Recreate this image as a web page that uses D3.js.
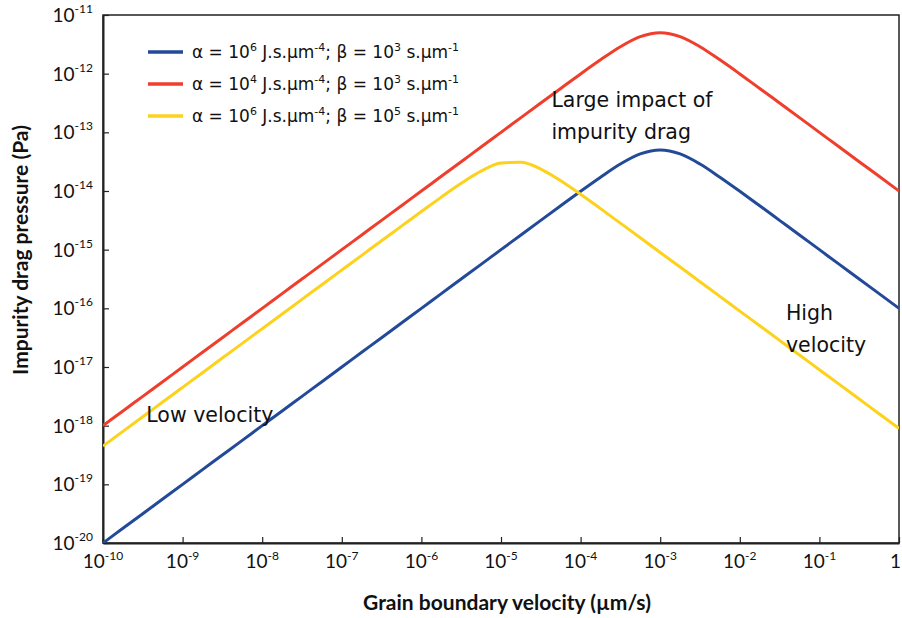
<!DOCTYPE html>
<html><head><meta charset="utf-8">
<script src="https://cdn.jsdelivr.net/npm/d3@7"></script>
<style>
body{margin:0;background:#fff;}
svg{display:block;}
text{font-family:Lato,"Noto Sans",sans-serif;fill:#111;}
</style></head>
<body><svg id="c" width="902" height="618"></svg>
<script>
// velocity (µm/s), 0.25-decade steps
const velocity = [1e-10,1.78e-10,3.16e-10,5.62e-10,1e-9,1.78e-9,3.16e-9,5.62e-9,1e-8,1.78e-8,3.16e-8,5.62e-8,
  1e-7,1.78e-7,3.16e-7,5.62e-7,1e-6,1.78e-6,3.16e-6,5.62e-6,1e-5,1.78e-5,3.16e-5,5.62e-5,
  1e-4,1.78e-4,3.16e-4,5.62e-4,1e-3,1.78e-3,3.16e-3,5.62e-3,1e-2,1.78e-2,3.16e-2,5.62e-2,
  1e-1,1.78e-1,3.16e-1,5.62e-1,1];
// alpha = 1e6, beta = 1e3
const blueP = [1e-20,1.78e-20,3.16e-20,5.62e-20,1e-19,1.78e-19,3.16e-19,5.62e-19,1e-18,1.78e-18,3.16e-18,5.62e-18,
  1e-17,1.78e-17,3.16e-17,5.62e-17,1e-16,1.78e-16,3.16e-16,5.62e-16,1e-15,1.78e-15,3.16e-15,5.6e-15,
  9.9e-15,1.72e-14,2.88e-14,4.28e-14,5.0e-14,4.28e-14,2.88e-14,1.72e-14,9.9e-15,5.6e-15,3.16e-15,1.78e-15,
  1e-15,5.62e-16,3.16e-16,1.78e-16,1e-16];
// alpha = 1e4, beta = 1e3
const redP = [1e-18,1.78e-18,3.16e-18,5.62e-18,1e-17,1.78e-17,3.16e-17,5.62e-17,1e-16,1.78e-16,3.16e-16,5.62e-16,
  1e-15,1.78e-15,3.16e-15,5.62e-15,1e-14,1.78e-14,3.16e-14,5.62e-14,1e-13,1.78e-13,3.16e-13,5.6e-13,
  9.9e-13,1.72e-12,2.88e-12,4.28e-12,5.0e-12,4.28e-12,2.88e-12,1.72e-12,9.9e-13,5.6e-13,3.16e-13,1.78e-13,
  1e-13,5.62e-14,3.16e-14,1.78e-14,1e-14];
// alpha = 1e6, beta = 1e5
const yellowP = [4.5e-19,8.0e-19,1.42e-18,2.53e-18,4.5e-18,8.0e-18,1.42e-17,2.53e-17,4.5e-17,8.0e-17,1.42e-16,2.53e-16,
  4.5e-16,8.0e-16,1.42e-15,2.52e-15,4.48e-15,7.87e-15,1.355e-14,2.18e-14,3.0e-14,3.09e-14,2.37e-14,1.5e-14,
  8.8e-15,5.0e-15,2.83e-15,1.6e-15,8.97e-16,5.05e-16,2.84e-16,1.6e-16,8.97e-17,5.05e-17,2.84e-17,1.6e-17,
  8.97e-18,5.05e-18,2.84e-18,1.6e-18,8.97e-19];

const seriesNames = [
  {a:"6", b:"3"},
  {a:"4", b:"3"},
  {a:"6", b:"5"}
];
const seriesColors = ["#234a98","#f03e2c","#fcd21c"];
const seriesData = [blueP, redP, yellowP];

const xTickExps = [-10,-9,-8,-7,-6,-5,-4,-3,-2,-1,0];
const yTickExps = [-20,-19,-18,-17,-16,-15,-14,-13,-12,-11];

const annotations = [
  {lines:["Low velocity"], v:3.5e-10, p:1.15e-18},
  {lines:["Large impact of","impurity drag"], v:4.3e-5, p:2.7e-13},
  {lines:["High","velocity"], v:3.8e-2, p:6.3e-17}
];

const svg = d3.select("#c");
const L=103, R=899, T=15, B=543;
const x = d3.scaleLog().domain([1e-10,1]).range([L,R]);
const y = d3.scaleLog().domain([1e-20,1e-11]).range([B,T]);

// frame
svg.append("rect").attr("x",L).attr("y",T).attr("width",R-L).attr("height",B-T)
  .attr("fill","none").attr("stroke","#222").attr("stroke-width",1.5);

// axes
const xAxis = d3.axisBottom(x).tickValues(xTickExps.map(e=>Math.pow(10,e))).tickSizeInner(-6).tickSizeOuter(0).tickFormat(()=>"");
const gx = svg.append("g").attr("transform",`translate(0,${B})`).call(xAxis);
gx.select(".domain").attr("stroke","#222").attr("stroke-width",2);
gx.selectAll(".tick line").attr("stroke","#222").attr("stroke-width",1.2);

const yAxis = d3.axisLeft(y).tickValues(yTickExps.map(e=>Math.pow(10,e))).tickSizeInner(-6).tickSizeOuter(0).tickFormat(()=>"");
const gy = svg.append("g").attr("transform",`translate(${L},0)`).call(yAxis);
gy.select(".domain").attr("stroke","#222").attr("stroke-width",2);
gy.selectAll(".tick line").attr("stroke","#222").attr("stroke-width",1.2);

// x tick labels
xTickExps.forEach(e=>{
  const t = svg.append("text").attr("x",x(Math.pow(10,e))).attr("y",568)
    .attr("text-anchor", e===0 ? "end" : "middle").attr("font-size",19);
  if(e===0){ t.attr("x",901).text("1"); }
  else {
    t.append("tspan").text("10");
    t.append("tspan").attr("dy",-8).attr("font-size",12).text(String(e));
  }
});
// y tick labels
yTickExps.forEach(e=>{
  const t = svg.append("text").attr("x",93).attr("y",y(Math.pow(10,e))+7)
    .attr("text-anchor","end").attr("font-size",19);
  t.append("tspan").text("10");
  t.append("tspan").attr("dy",-9).attr("font-size",12).text(String(e));
});

// axis titles
svg.append("text").attr("x",507).attr("y",610).attr("text-anchor","middle")
  .attr("font-size",21).attr("font-weight","bold").text("Grain boundary velocity (µm/s)");
svg.append("text").attr("transform","translate(28,250) rotate(-90)").attr("text-anchor","middle")
  .attr("font-size",21).attr("font-weight","bold").text("Impurity drag pressure (Pa)");

// lines
const line = d3.line().x(d=>x(d[0])).y(d=>y(d[1])).curve(d3.curveMonotoneX);
svg.append("clipPath").attr("id","clp").append("rect").attr("x",L).attr("y",T).attr("width",R-L).attr("height",B-T);
seriesData.forEach((s,i)=>{
  svg.append("path").attr("d", line(velocity.map((v,j)=>[v,s[j]])))
    .attr("fill","none").attr("stroke",seriesColors[i]).attr("stroke-width",3)
    .attr("stroke-linejoin","round").attr("clip-path","url(#clp)");
});

// legend
const legY = [52,84,116];
seriesNames.forEach((s,i)=>{
  svg.append("line").attr("x1",148).attr("x2",183).attr("y1",legY[i]).attr("y2",legY[i])
    .attr("stroke",seriesColors[i]).attr("stroke-width",3.5);
  const t = svg.append("text").attr("x",192).attr("y",legY[i]+6).attr("font-size",17)
    .style("font-family","'DejaVu Sans',sans-serif");
  t.append("tspan").text("α = 10");
  t.append("tspan").attr("dy",-7).attr("font-size",11).text(s.a);
  t.append("tspan").attr("dy",7).text(" J.s.µm");
  t.append("tspan").attr("dy",-7).attr("font-size",11).text("-4");
  t.append("tspan").attr("dy",7).text("; β = 10");
  t.append("tspan").attr("dy",-7).attr("font-size",11).text(s.b);
  t.append("tspan").attr("dy",7).text(" s.µm");
  t.append("tspan").attr("dy",-7).attr("font-size",11).text("-1");
});

// annotations
annotations.forEach(a=>{
  const t = svg.append("text").attr("x",x(a.v)).attr("y",y(a.p)).attr("font-size",20.5)
    .style("font-family","'DejaVu Sans',sans-serif");
  a.lines.forEach((ln,k)=>{
    t.append("tspan").attr("x",x(a.v)).attr("dy",k===0?0:32).text(ln);
  });
});
</script></body></html>
